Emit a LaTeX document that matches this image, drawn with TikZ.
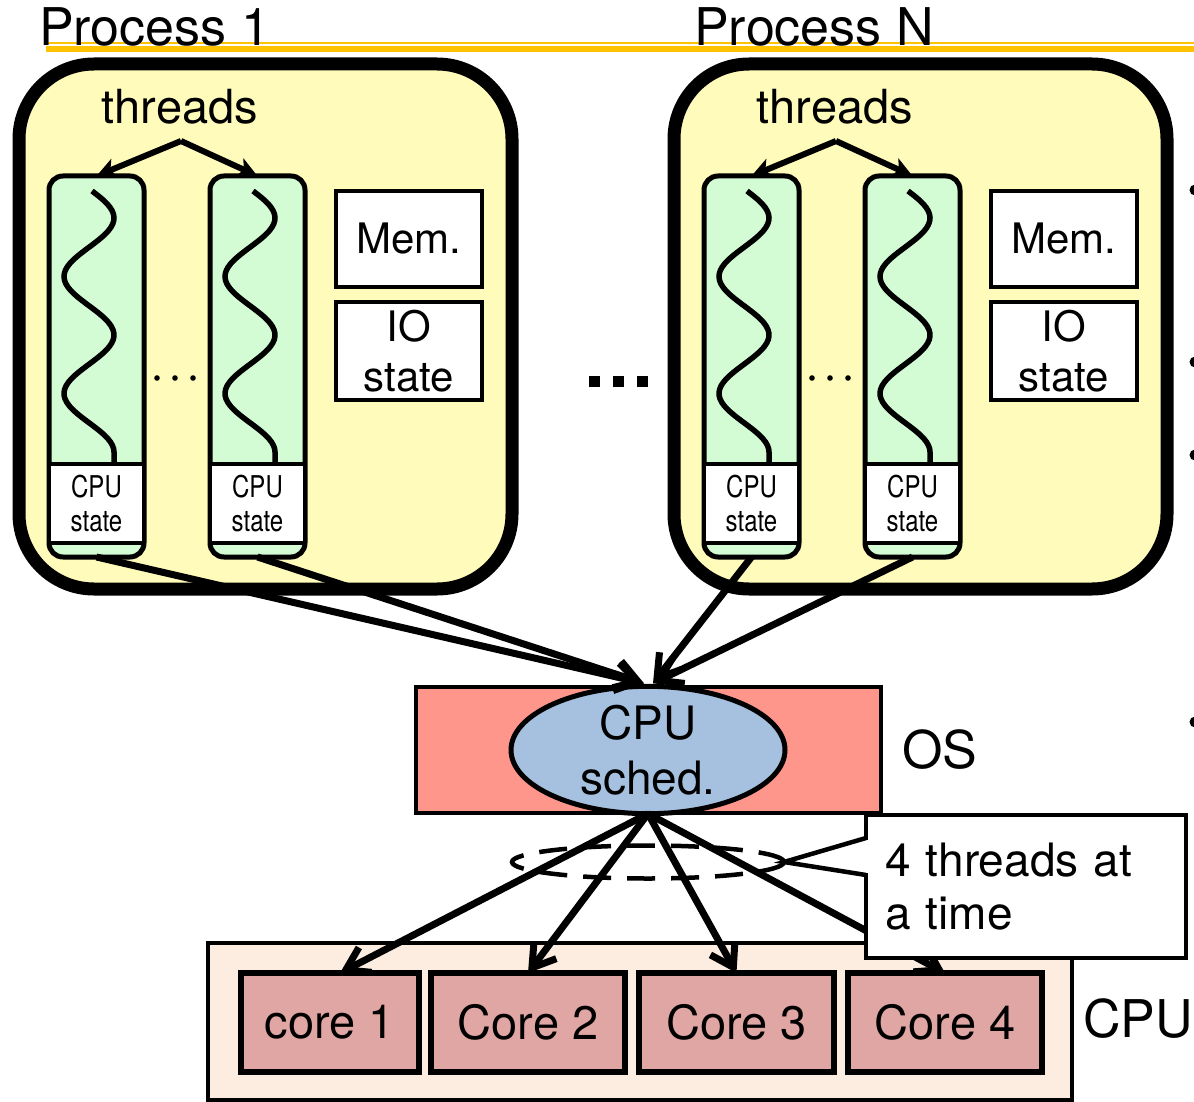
\documentclass[tikz,border=0pt]{standalone}
\usepackage{fontspec}
\setmainfont{TeX Gyre Heros}
\newfontfamily\narrowfont{TeX Gyre Heros}[FakeStretch=0.8]
\usetikzlibrary{shapes.geometric,arrows.meta,calc}

\definecolor{rulegold}{HTML}{FDC300}
\definecolor{procfill}{HTML}{FFFBBA}
\definecolor{threadfill}{HTML}{D3FBD4}
\definecolor{osfill}{HTML}{FF968C}
\definecolor{schedfill}{HTML}{A6C1E0}
\definecolor{cpufill}{HTML}{FDEDE1}
\definecolor{corefill}{HTML}{E0A6A4}

\tikzset{
  process/.style={draw, line width=13pt, fill=procfill, rounded corners=75pt,
    minimum width=493pt, minimum height=525pt, inner sep=0pt, outer sep=0pt},
  threadbox/.style={draw, line width=5pt, fill=threadfill, rounded corners=14pt,
    minimum width=95pt, minimum height=381pt, inner sep=0pt, outer sep=0pt},
  statebox/.style={draw, line width=4.5pt, fill=white, minimum width=95pt,
    minimum height=79pt, inner sep=0pt, outer sep=0pt, align=center,
    font=\narrowfont\fontsize{30}{34}\selectfont},
  membox/.style={draw, line width=4.5pt, fill=white, minimum width=146pt,
    inner sep=0pt, outer sep=0pt, align=center, font=\fontsize{42}{50}\selectfont},
  wave/.style={line width=5.5pt},
  tarrow/.style={line width=6pt, -{Stealth[length=20pt,width=20pt,inset=5pt]}},
  sarrow/.style={line width=7pt, -{Straight Barb[length=22pt,width=28pt]}},
  headtext/.style={font=\fontsize{52}{60}\selectfont, inner sep=0pt},
  thrtext/.style={font=\fontsize{47}{56}\selectfont, inner sep=0pt},
  biglabel/.style={font=\fontsize{52}{60}\selectfont, inner sep=0pt},
  osbox/.style={draw, line width=4.5pt, fill=osfill, minimum width=465pt,
    minimum height=126pt, inner sep=0pt, outer sep=0pt},
  schedell/.style={ellipse, draw, line width=5pt, fill=schedfill,
    minimum width=274pt, minimum height=122pt, inner sep=0pt, outer sep=0pt,
    align=center, font=\fontsize{46}{55}\selectfont},
  cpubox/.style={draw, line width=4.5pt, fill=cpufill, minimum width=864pt,
    minimum height=157pt, inner sep=0pt, outer sep=0pt},
  corebox/.style={draw, line width=6pt, fill=corefill, minimum height=99pt,
    inner sep=0pt, outer sep=0pt, font=\fontsize{47}{56}\selectfont},
}

% one process: title, frame, two threads, memory and IO state
\newcommand{\procgroup}[3]{%
  \begin{scope}[xshift=#1]
    \node[headtext, anchor=base west] (head#2) at (39,46) {#3};
    \node[process] (p#2) at (265.5,326.5) {};
    \node[thrtext, anchor=base] (lab#2) at (180,124) {threads};
    \coordinate (apex#2) at (181,141);
    \node[threadbox] (t#2a) at (96.5,366.5) {};
    \node[threadbox] (t#2b) at (257.5,366.5) {};
    \foreach \dx in {0,161}
      \draw[wave] plot[domain=191:452, samples=80, smooth]
        ({\dx+89+25*sin((\x-218)/117*360+90)}, \x) -- (\dx+114,464);
    \node[statebox] (s#2a) at ($(t#2a.south)+(0,-53.5)$) {CPU\\state};
    \node[statebox] (s#2b) at ($(t#2b.south)+(0,-53.5)$) {CPU\\state};
    \foreach \x in {157,175,193} \fill (\x,378) circle (2.8);
    \node[membox, minimum height=96pt] (mem#2) at (409,239) {Mem.};
    \node[membox, minimum height=98pt] (io#2) at (409,351) {IO\\state};
    \draw[tarrow] (apex#2) -- (t#2a.north);
    \draw[tarrow] (apex#2) -- (t#2b.north);
  \end{scope}}

\begin{document}
\begin{tikzpicture}[x=1pt,y=-1pt]
  \useasboundingbox (0,0) rectangle (1194,1102);
  \fill[white] (0,0) rectangle (1194,1102);
  \clip (0,0) rectangle (1194,1102);

  % heading rule
  \draw[rulegold, line width=2pt] (46,42.7) -- (1194,42.7);
  \draw[rulegold, line width=5.7pt] (46,48.8) -- (1194,48.8);

  \procgroup{0pt}{1}{Process 1}
  \procgroup{655pt}{2}{Process N}

  % ellipsis between the processes
  \foreach \x in {594,618,642} \fill (\x-5.5,375.5) rectangle (\x+5.5,386.5);

  % list bullets at the right margin
  \foreach \y in {190,362,455,722} \fill (1195,\y) circle (5.5);

  % operating system and scheduler
  \node[osbox] (os) at (648.5,750) {};
  \node[schedell] (sched) at (648,750) {CPU\\sched.};
  \node[biglabel, anchor=base west] (oslab) at (902,768) {OS};

  \draw[sarrow] (t1a.south) -- ([xshift=-4pt,yshift=3pt]sched.north);
  \draw[sarrow] (t1b.south) -- ([xshift=-4pt,yshift=3pt]sched.north);
  \draw[sarrow] (t2a.south) -- ([xshift=5pt,yshift=3pt]sched.north);
  \draw[sarrow] (t2b.south) -- ([xshift=5pt,yshift=3pt]sched.north);

  % processor with four cores
  \node[cpubox] (cpu) at (640,1021.5) {};
  \node[corebox, minimum width=178pt] (c1) at (330,1022.5) {core 1};
  \node[corebox, minimum width=194pt] (c2) at (528,1022.5) {Core 2};
  \node[corebox, minimum width=195pt] (c3) at (736.5,1022.5) {Core 3};
  \node[corebox, minimum width=194pt] (c4) at (945,1022.5) {Core 4};
  \node[biglabel, anchor=base west] (cpulab) at (1083,1037) {CPU};

  \draw[sarrow] (sched.south) -- ([xshift=10pt]c1.north);
  \draw[sarrow] (sched.south) -- (c2.north);
  \draw[sarrow] (sched.south) -- (c3.north);
  \draw[sarrow] (sched.south) -- (c4.north);

  % the four running threads
  \node[ellipse, draw, dashed, line width=4.5pt, dash pattern=on 28pt off 16pt,
    minimum width=272pt, minimum height=33pt, inner sep=0pt, outer sep=0pt]
    (grp) at (648,862) {};

  % callout
  \node[draw, fill=white, line width=4.5pt, minimum width=320pt, minimum height=143pt,
    text width=282pt, inner xsep=19pt, inner ysep=0pt, outer sep=0pt, align=left,
    font=\fontsize{46}{53}\selectfont] (note) at (1026,886.5) {4 threads at\\a time};
  \fill[white] ($(note.north west)+(-4,25)$) rectangle ($(note.north west)+(4,58)$);
  \draw[line width=4.5pt] ($(note.north west)+(0,23)$) -- (grp.east)
    -- ($(note.north west)+(0,60)$);
\end{tikzpicture}
\end{document}
